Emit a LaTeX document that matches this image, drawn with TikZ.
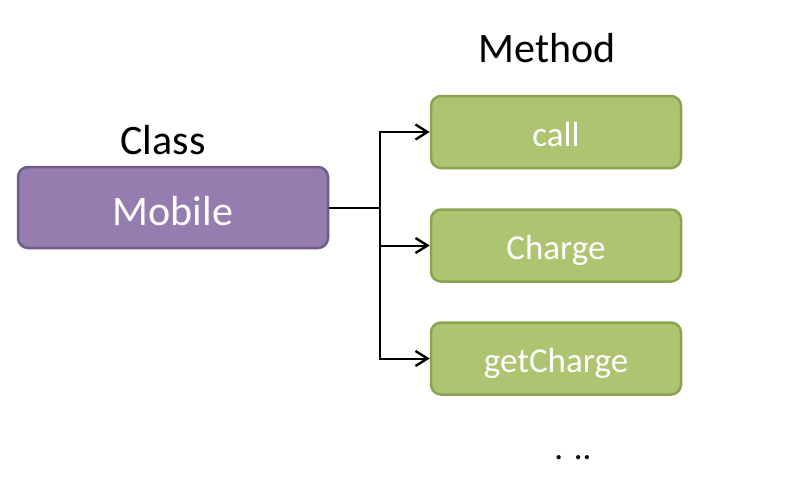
\documentclass[tikz,border=0pt]{standalone}
\usepackage{fontspec}
\setmainfont{Carlito}
\usetikzlibrary{positioning,arrows.meta}
\definecolor{classfill}{RGB}{149,125,175}
\definecolor{classline}{RGB}{112,92,138}
\definecolor{methfill}{RGB}{173,196,112}
\definecolor{methline}{RGB}{138,163,80}

\begin{document}
\begin{tikzpicture}[x=1pt,y=-1pt,
  classbox/.style={draw=classline, fill=classfill, line width=2.5pt, rounded corners=10pt,
    minimum width=310pt, minimum height=81pt, inner sep=0pt, text=white,
    text height=35pt, text depth=0pt, font=\fontsize{42}{50}\selectfont},
  methbox/.style={draw=methline, fill=methfill, line width=2.5pt, rounded corners=10pt,
    minimum width=250pt, minimum height=72pt, inner sep=0pt, text=white,
    text height=28pt, text depth=0pt, font=\fontsize{35}{42}\selectfont},
  heading/.style={font=\fontsize{42}{50}\selectfont},
  link/.style={line width=2pt},
  linkarrow/.style={link, -{Straight Barb[length=12pt,width=15pt,line width=2.4pt]}}]
\useasboundingbox (0,0) rectangle (802,488);
\node[classbox] (mobile) at (173,207.5) {Mobile};
\node[heading] (classlbl) at (163,140) {Class};
\node[methbox] (call) at (556,132) {call};
\node[methbox] (charge) at (556,245.5) {Charge};
\node[methbox] (getcharge) at (556,358.5) {getCharge};
\node[heading] (methlbl) at (547,48) {Method};
\node[font=\fontsize{35}{42}\selectfont] (more) at (573,458) {. ..};
\coordinate (fork) at (380,207.5);
\draw[link] (mobile.east) -- (fork);
\draw[linkarrow] (fork) |- (call.west);
\draw[linkarrow] (fork) |- (charge.west);
\draw[linkarrow] (fork) |- (getcharge.west);
\end{tikzpicture}
\end{document}
